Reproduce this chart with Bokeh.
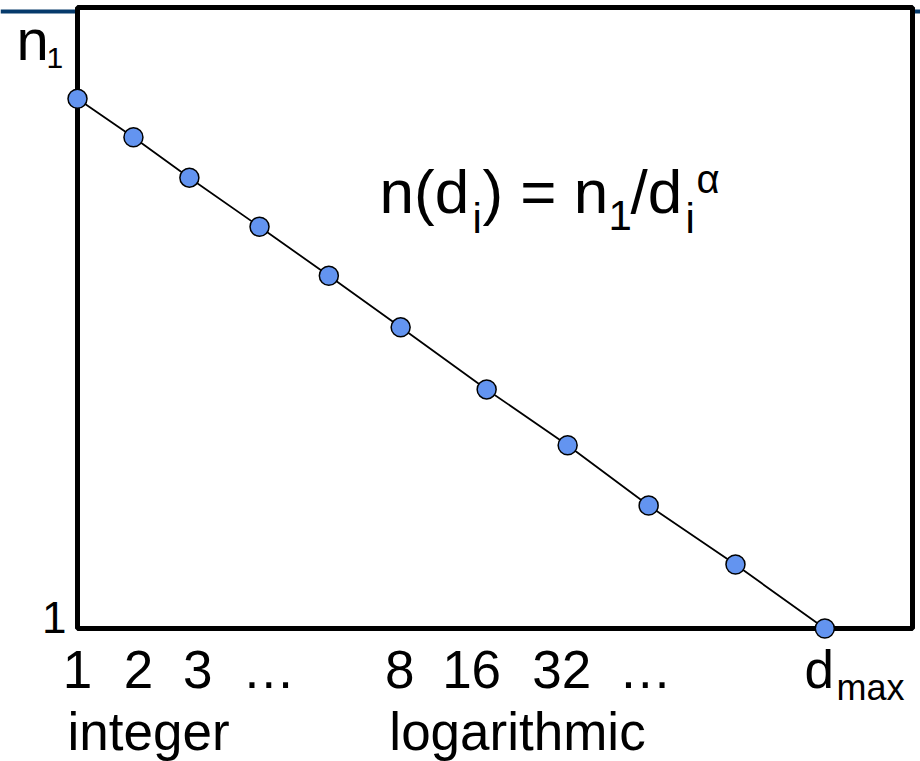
from bokeh.plotting import figure
from bokeh.models import BoxAnnotation, Range1d
from bokeh.core.properties import value
from bokeh.embed import file_html
from bokeh.resources import INLINE

# ---- data (positions on a stretched d-axis, 0..100 ; log n, 0..100) ----
point_x = [0, 6.7, 13.4, 21.8, 30.1, 38.7, 49.0, 58.7, 68.4, 78.8, 89.5]
point_y = [85.3, 79.1, 72.6, 64.7, 56.8, 48.5, 38.5, 29.5, 19.8, 10.3, 0]

tick_pos = [0, 7.3, 14.4, 22.9, 38.6, 47.2, 58.0, 68.0]
tick_labels = ["1", "2", "3", "…", "8", "16", "32", "…"]

axis_x_bounds = [0, 100]   # d axis extent (1 .. d_max region)
axis_y_bounds = [0, 100]   # n axis extent (1 .. above n_1)

FONT = "Liberation Sans"
W, H = 920, 761

# page pixel <-> data mapping of the plot box
FL, FR, FT, FB = 77, 912, 7, 628
def dx(px):
    return (px - FL) / (FR - FL) * 100
def dy(py):
    return (FB - py) / (FB - FT) * 100

# text glyphs sit a bit low relative to the requested baseline: compensate
BASE_K = 0.36
def by(py, size):
    return dy(py - BASE_K * size)

p = figure(width=W, height=H, output_backend="svg", toolbar_location=None,
           x_range=Range1d(dx(0), dx(W)), y_range=Range1d(dy(H), dy(0)),
           min_border=0)
p.min_border_left = p.min_border_right = p.min_border_top = p.min_border_bottom = 0
p.axis.visible = False
p.grid.visible = False
p.outline_line_color = None
p.background_fill_color = "white"
p.border_fill_color = "white"

# blue rule at the very top (slide decoration), behind the box
p.add_layout(BoxAnnotation(left=dx(0), right=dx(W), top=dy(9), bottom=dy(13),
                           fill_color="#063a6b", fill_alpha=1, line_color=None,
                           level="underlay"))

# plot box
p.quad(left=[axis_x_bounds[0]], right=[axis_x_bounds[1]],
       bottom=[axis_y_bounds[0]], top=[axis_y_bounds[1]],
       fill_color="white", line_color="black", line_width=5)

p.line(point_x, point_y, line_color="black", line_width=1.8)
p.scatter(point_x, point_y, size=19, fill_color="#6394F0", line_color="black",
          line_width=1.5)

# tick labels of the d axis
p.text(x=tick_pos, y=[by(688, 53)] * len(tick_pos), text=tick_labels,
       text_font=value(FONT), text_font_size="53px", text_color="black",
       text_align="center", text_baseline="alphabetic")

def lab(text, px, py, size, align="left"):
    p.text(x=[dx(px)], y=[by(py, size)], text=[text], text_font=value(FONT),
           text_font_size=f"{size}px", text_color="black",
           text_align=align, text_baseline="alphabetic")

# y axis texts
lab("n", 16, 60, 58)
lab("1", 46, 68, 30)
lab("1", 66, 633, 44, "right")

# d_max
lab("d", 804, 688, 53)
lab("max", 836, 700, 36)

# category words
lab("integer", 148, 750, 53, "center")
lab("logarithmic", 517, 750, 53, "center")

# formula n(d_i) = n_1/d_i^alpha
lab("n(d", 379, 213, 62)
lab("i", 472, 233, 42)
lab(") = n", 482, 213, 62)
lab("1", 608, 230, 42)
lab("/d", 630, 213, 62)
lab("i", 685, 233, 42)
lab("α", 696, 193, 40)

open("out.html", "w").write(file_html(p, INLINE))
